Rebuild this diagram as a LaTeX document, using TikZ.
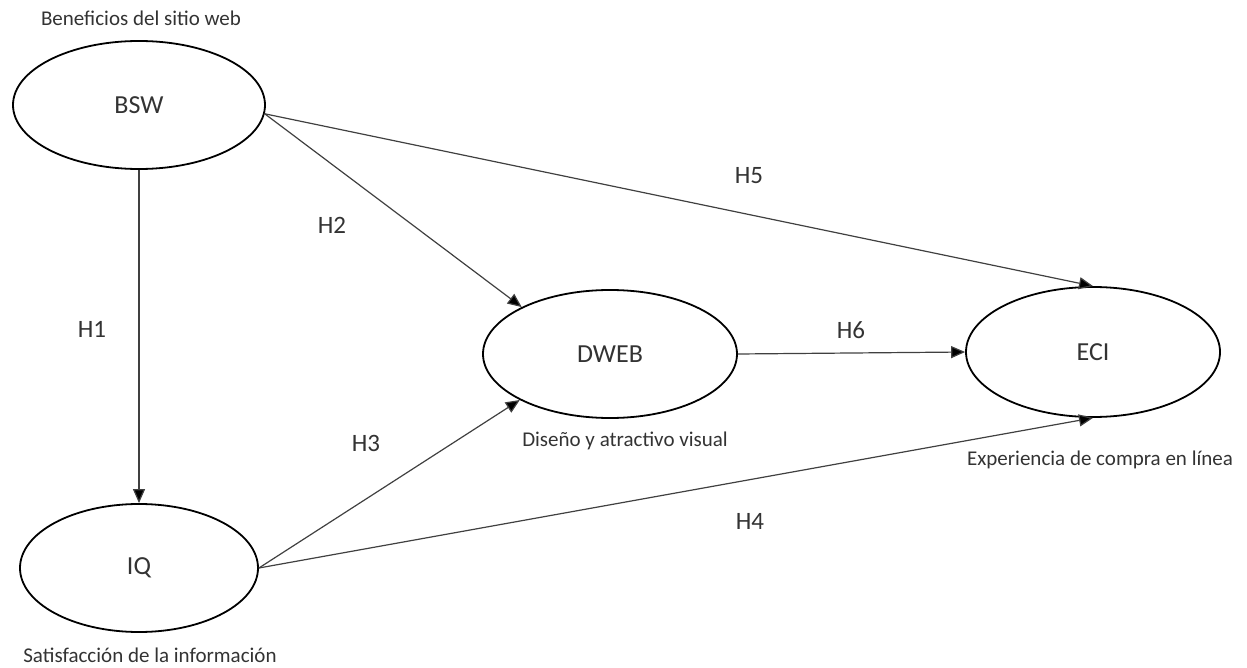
\documentclass[tikz,border=0pt]{standalone}
\usepackage{fontspec}
\setmainfont{Carlito}
\usetikzlibrary{shapes.geometric,arrows.meta}
\definecolor{txt}{HTML}{333333}
\definecolor{ln}{HTML}{404040}
\tikzset{
  construct/.style={ellipse, draw=black, line width=1.8pt, inner sep=0pt, font=\fontsize{26}{30}\selectfont, text=txt},
  caption/.style={font=\fontsize{21}{25}\selectfont, text=txt, inner sep=0pt},
  hlabel/.style={font=\fontsize{25}{30}\selectfont, text=txt, inner sep=0pt},
  path/.style={draw=ln, line width=1.2pt, -{Triangle[length=14pt, width=12pt, fill=black]}}
}
\begin{document}
\begin{tikzpicture}[x=1pt, y=-1pt]
\useasboundingbox (0,0) rectangle (1247,668);
\node[construct, minimum width=252pt, minimum height=128pt] (bsw) at (139,105) {BSW};
\node[construct, minimum width=238pt, minimum height=128pt] (iq) at (139,568) {IQ};
\node[construct, minimum width=254pt, minimum height=128pt] (dweb) at (610,354) {DWEB};
\node[construct, minimum width=254pt, minimum height=130pt] (eci) at (1093,352) {ECI};

\node[caption] (cbsw) at (141,18) {Beneficios del sitio web};
\node[caption] (ciq) at (150,655) {Satisfacción de la información};
\node[caption] (cdweb) at (625,441) {Diseño y atractivo visual};
\node[caption] (ceci) at (1100,460) {Experiencia de compra en línea};

\draw[path] (bsw.south) -- (iq.north);
\draw[path] (bsw.-4) -- (dweb.152);
\draw[path] (bsw.-4) -- (eci.north);
\draw[path] (iq.east) -- (dweb.207);
\draw[path] (iq.east) -- (eci.south);
\draw[path] (dweb.east) -- (eci.west);

\node[hlabel] (h1) at (92,329) {H1};
\node[hlabel] (h2) at (332,225) {H2};
\node[hlabel] (h3) at (366,443) {H3};
\node[hlabel] (h4) at (750,521) {H4};
\node[hlabel] (h5) at (749,176) {H5};
\node[hlabel] (h6) at (851,330) {H6};
\end{tikzpicture}
\end{document}
